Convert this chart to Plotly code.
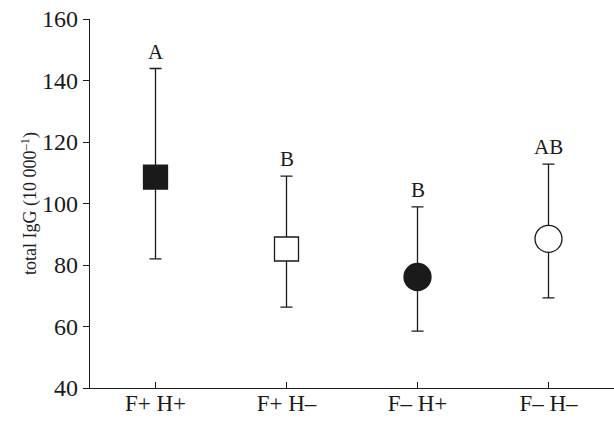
import plotly.graph_objects as go

categories = ["F+ H+", "F+ H–", "F– H+", "F– H–"]
means = [108.6, 85.2, 76.1, 88.5]
upper = [143.9, 108.9, 98.9, 112.8]
lower = [82.0, 66.3, 58.5, 69.3]
letters = ["A", "B", "B", "AB"]
y_ticks = [40, 60, 80, 100, 120, 140, 160]

INK = "#1a1a1a"
fig = go.Figure()
xs = list(range(len(categories)))
for i in xs:
    fig.add_trace(go.Scatter(
        x=[i], y=[means[i]], mode="markers",
        marker=dict(symbol="square" if i < 2 else "circle",
                    size=24 if i < 2 else 27,
                    color=INK if i % 2 == 0 else "white",
                    line=dict(color=INK, width=1.3)),
        error_y=dict(type="data", symmetric=False,
                     array=[upper[i] - means[i]], arrayminus=[means[i] - lower[i]],
                     color=INK, thickness=1.3, width=6),
        showlegend=False))
    fig.add_annotation(x=i, y=upper[i], text=letters[i], showarrow=False,
                       yanchor="bottom", yshift=3,
                       font=dict(family="Liberation Serif", size=21, color=INK))

fig.update_layout(
    width=614, height=421, template="none",
    margin=dict(l=90, r=0, t=19, b=33),
    plot_bgcolor="white", paper_bgcolor="white",
    font=dict(family="Liberation Serif", size=22, color=INK),
    xaxis=dict(range=[-0.5, 3.5], tickmode="array", tickvals=xs, ticktext=categories,
               ticks="inside", ticklen=6, tickcolor=INK,
               showline=True, linecolor=INK, linewidth=1.3,
               showgrid=False, zeroline=False, automargin=False,
               ticklabelstandoff=-6, ticklabeloverflow="allow",
               tickfont=dict(family="Liberation Serif", size=23, color=INK)),
    yaxis=dict(range=[40, 160], tickmode="array", tickvals=y_ticks,
               ticks="outside", ticklen=6, tickcolor=INK,
               showline=True, linecolor=INK, linewidth=1.3,
               showgrid=False, zeroline=False, automargin=False,
               ticklabeloverflow="allow",
               title=dict(text="total IgG (10 000<sup>–1</sup>)",
                          font=dict(family="Liberation Serif", size=18, color=INK),
                          standoff=0),
               tickfont=dict(family="Liberation Serif", size=24, color=INK)),
)
fig.write_html("out.html", config={"displayModeBar": False},
               post_script="document.body.style.margin='0';")
